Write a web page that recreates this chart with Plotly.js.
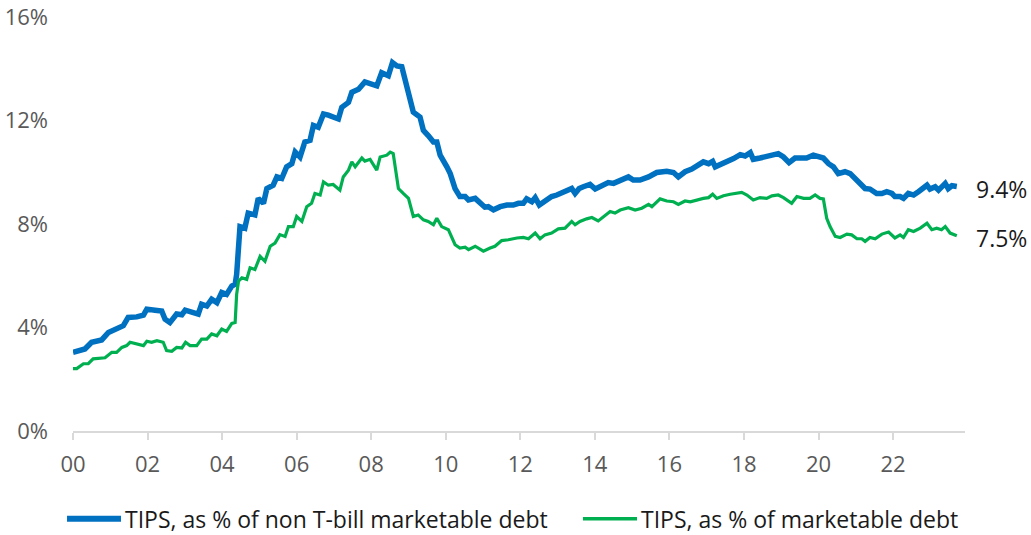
<!DOCTYPE html>
<html>
<head>
<meta charset="utf-8">
<script src="https://cdn.plot.ly/plotly-3.0.1.min.js"></script>
<style>html,body{margin:0;padding:0;background:#fff;}#chart{width:1031px;height:535px;}</style>
</head>
<body>
<div id="chart"></div>
<script>
// Series: TIPS, as % of non T-bill marketable debt
const blueYears = [2000.00,2000.32,2000.50,2000.77,2000.95,2001.13,2001.35,2001.48,2001.71,2001.89,2001.98,2002.20,2002.38,2002.47,2002.60,2002.78,2002.92,2003.01,2003.18,2003.36,2003.45,2003.59,2003.72,2003.86,2003.99,2004.12,2004.26,2004.35,2004.39,2004.44,2004.48,2004.61,2004.70,2004.88,2004.97,2005.11,2005.20,2005.37,2005.47,2005.60,2005.73,2005.87,2005.96,2006.09,2006.22,2006.36,2006.45,2006.58,2006.72,2006.85,2007.12,2007.21,2007.39,2007.48,2007.66,2007.83,2007.97,2008.15,2008.28,2008.37,2008.46,2008.57,2008.69,2008.82,2008.95,2009.13,2009.31,2009.40,2009.53,2009.67,2009.76,2009.85,2010.03,2010.12,2010.25,2010.38,2010.52,2010.61,2010.79,2010.92,2011.05,2011.14,2011.28,2011.46,2011.64,2011.81,2011.95,2012.08,2012.17,2012.31,2012.40,2012.51,2012.66,2012.84,2012.98,2013.11,2013.25,2013.38,2013.47,2013.58,2013.69,2013.87,2014.01,2014.19,2014.36,2014.50,2014.68,2014.90,2015.03,2015.21,2015.44,2015.66,2015.93,2016.11,2016.24,2016.42,2016.60,2016.78,2016.91,2017.05,2017.16,2017.23,2017.41,2017.58,2017.72,2017.90,2018.03,2018.17,2018.25,2018.43,2018.61,2018.79,2018.92,2019.06,2019.21,2019.37,2019.55,2019.68,2019.86,2020.00,2020.13,2020.27,2020.40,2020.53,2020.71,2020.85,2020.98,2021.12,2021.25,2021.38,2021.56,2021.70,2021.83,2021.97,2022.05,2022.19,2022.28,2022.41,2022.55,2022.68,2022.81,2022.91,2022.99,2023.13,2023.22,2023.40,2023.48,2023.58,2023.71];
const blueValues = [3.04,3.17,3.43,3.52,3.81,3.94,4.07,4.39,4.41,4.48,4.71,4.67,4.64,4.32,4.19,4.52,4.49,4.67,4.62,4.52,4.90,4.83,5.09,4.96,5.35,5.28,5.60,5.67,6.05,7.33,7.90,7.84,8.42,8.35,8.99,8.80,9.37,9.50,9.82,9.76,10.21,10.33,10.78,10.59,11.17,11.23,11.81,11.74,12.25,12.21,12.06,12.51,12.70,13.09,13.21,13.49,13.40,13.34,13.85,13.79,13.73,14.24,14.11,14.08,13.34,12.32,12.13,11.62,11.42,11.17,11.17,10.66,10.21,9.95,9.37,9.06,9.06,8.93,8.99,8.80,8.65,8.67,8.55,8.67,8.73,8.73,8.80,8.80,8.97,8.86,9.02,8.73,8.89,9.06,9.12,9.22,9.27,9.37,9.18,9.37,9.44,9.53,9.35,9.48,9.60,9.57,9.70,9.82,9.70,9.70,9.82,9.99,10.04,9.99,9.82,10.02,10.12,10.27,10.40,10.33,10.42,10.21,10.33,10.40,10.53,10.68,10.63,10.76,10.50,10.55,10.63,10.66,10.72,10.59,10.37,10.55,10.53,10.55,10.66,10.59,10.55,10.33,10.21,9.95,10.02,9.95,9.76,9.57,9.37,9.35,9.18,9.18,9.25,9.18,9.06,9.06,8.99,9.18,9.12,9.25,9.37,9.50,9.35,9.44,9.31,9.57,9.37,9.48,9.45];

// Series: TIPS, as % of marketable debt
const greenYears = [2000.00,2000.10,2000.28,2000.41,2000.54,2000.72,2000.86,2001.04,2001.17,2001.31,2001.44,2001.53,2001.71,2001.89,2001.98,2002.11,2002.25,2002.42,2002.51,2002.65,2002.78,2002.92,2003.02,2003.14,2003.32,2003.45,2003.59,2003.72,2003.86,2003.99,2004.12,2004.26,2004.35,2004.39,2004.44,2004.53,2004.66,2004.75,2004.88,2005.02,2005.15,2005.29,2005.42,2005.55,2005.69,2005.78,2005.91,2006.00,2006.14,2006.27,2006.40,2006.49,2006.63,2006.72,2006.85,2006.98,2007.16,2007.25,2007.39,2007.48,2007.57,2007.75,2007.83,2007.97,2008.15,2008.24,2008.42,2008.51,2008.59,2008.73,2008.86,2009.00,2009.13,2009.26,2009.40,2009.53,2009.67,2009.76,2009.89,2010.07,2010.25,2010.38,2010.52,2010.61,2010.79,2011.01,2011.19,2011.32,2011.50,2011.68,2011.91,2012.08,2012.22,2012.40,2012.53,2012.66,2012.84,2013.02,2013.20,2013.38,2013.47,2013.60,2013.78,2013.92,2014.09,2014.23,2014.41,2014.54,2014.68,2014.90,2015.08,2015.26,2015.44,2015.53,2015.75,2015.93,2016.11,2016.24,2016.42,2016.56,2016.73,2016.91,2017.05,2017.16,2017.27,2017.45,2017.63,2017.81,2017.94,2018.08,2018.25,2018.43,2018.61,2018.75,2018.92,2019.06,2019.28,2019.42,2019.60,2019.77,2019.91,2020.04,2020.13,2020.22,2020.31,2020.45,2020.58,2020.76,2020.89,2021.03,2021.16,2021.25,2021.38,2021.52,2021.70,2021.88,2022.05,2022.19,2022.28,2022.41,2022.55,2022.73,2022.91,2023.04,2023.17,2023.30,2023.40,2023.53,2023.71];
const greenValues = [2.41,2.41,2.60,2.60,2.79,2.83,2.83,3.04,3.04,3.23,3.30,3.43,3.36,3.30,3.47,3.43,3.49,3.43,3.11,3.08,3.23,3.21,3.43,3.30,3.30,3.55,3.55,3.75,3.68,3.94,3.85,4.16,4.19,5.28,5.79,5.92,5.86,6.31,6.24,6.75,6.56,7.14,7.26,7.59,7.52,7.90,7.90,8.29,8.10,8.67,8.80,9.18,9.12,9.63,9.50,9.53,9.31,9.82,10.08,10.40,10.21,10.55,10.43,10.50,10.08,10.59,10.66,10.78,10.72,9.37,9.18,8.99,8.29,8.35,8.16,8.10,7.97,8.22,7.90,7.78,7.20,7.07,7.10,7.01,7.14,6.95,7.07,7.14,7.36,7.39,7.46,7.48,7.43,7.65,7.43,7.58,7.65,7.81,7.84,8.10,7.97,8.10,8.20,8.25,8.12,8.29,8.48,8.42,8.54,8.63,8.54,8.61,8.76,8.67,8.97,8.89,8.86,8.76,8.89,8.86,8.93,8.99,9.02,9.15,8.99,9.09,9.15,9.18,9.22,9.12,8.93,9.02,8.99,9.09,9.12,9.02,8.80,9.06,8.99,8.99,9.12,8.99,8.97,8.22,7.90,7.52,7.48,7.61,7.58,7.43,7.43,7.33,7.48,7.43,7.61,7.69,7.46,7.58,7.48,7.78,7.71,7.84,8.03,7.78,7.84,7.78,7.90,7.65,7.55];

const seriesNames = ["TIPS, as % of non T-bill marketable debt", "TIPS, as % of marketable debt"];
const endLabels = ["9.4%", "7.5%"];
const xTickVals = [2000,2002,2004,2006,2008,2010,2012,2014,2016,2018,2020,2022];
const xTickText = ["00","02","04","06","08","10","12","14","16","18","20","22"];
const yTickVals = [0,4,8,12,16];
const yTickText = ["0%","4%","8%","12%","16%"];

const FONT = "'Open Sans', 'Noto Sans', sans-serif";
const BLUE = "#0070C0";
const GREEN = "#00B050";
const colors = [BLUE, GREEN];
const widths = [5.5, 3.2];

const traces = [
  {x: blueYears, y: blueValues, type: "scatter", mode: "lines", name: seriesNames[0],
   line: {color: BLUE, width: widths[0]}},
  {x: greenYears, y: greenValues, type: "scatter", mode: "lines", name: seriesNames[1],
   line: {color: GREEN, width: widths[1]}}
];

// Legend drawn in paper coordinates below the plot (keys and labels)
const legendY = -0.212;
const legendKeys = [[-0.0067, 0.0538], [0.5717, 0.6323]];
const shapes = legendKeys.map((k, i) => ({
  type: "line", xref: "paper", yref: "paper", x0: k[0], x1: k[1], y0: legendY, y1: legendY,
  line: {color: colors[i], width: widths[i] + 0.5}
}));
const legendAnns = legendKeys.map((k, i) => ({
  xref: "paper", yref: "paper", x: k[1] + 0.002, y: legendY, text: seriesNames[i],
  showarrow: false, xanchor: "left", yanchor: "middle",
  font: {size: 23, color: "#1a1a1a", family: FONT}
}));

const layout = {
  width: 1031, height: 535,
  margin: {l: 73, r: 66, t: 17, b: 104},
  paper_bgcolor: "#ffffff", plot_bgcolor: "#ffffff",
  font: {family: FONT, size: 22, color: "#595959"},
  showlegend: false,
  xaxis: {range: [2000, 2023.93], tickvals: xTickVals, ticktext: xTickText,
          showgrid: false, zeroline: false, showline: true, linecolor: "#d9d9d9", linewidth: 2,
          ticks: "outside", ticklen: 7, tickwidth: 2, tickcolor: "#d9d9d9",
          tickfont: {size: 22, color: "#595959"}, ticklabelstandoff: 6, fixedrange: true},
  yaxis: {range: [0, 16], tickvals: yTickVals, ticktext: yTickText,
          showgrid: false, zeroline: false, showline: false, ticks: "",
          ticklabeloverflow: "allow",
          tickfont: {size: 22, color: "#595959"}, ticklabelstandoff: 24, fixedrange: true},
  shapes: shapes,
  annotations: [
    {x: blueYears[blueYears.length-1], y: blueValues[blueValues.length-1], xref: "x", yref: "y",
     text: endLabels[0], showarrow: false, xanchor: "left", yanchor: "middle", xshift: 17, yshift: -3,
     font: {size: 23, color: "#1a1a1a", family: FONT}},
    {x: greenYears[greenYears.length-1], y: greenValues[greenValues.length-1], xref: "x", yref: "y",
     text: endLabels[1], showarrow: false, xanchor: "left", yanchor: "middle", xshift: 17, yshift: -2,
     font: {size: 23, color: "#1a1a1a", family: FONT}}
  ].concat(legendAnns)
};

Plotly.newPlot("chart", traces, layout, {displayModeBar: false, staticPlot: true});
</script>
</body>
</html>
